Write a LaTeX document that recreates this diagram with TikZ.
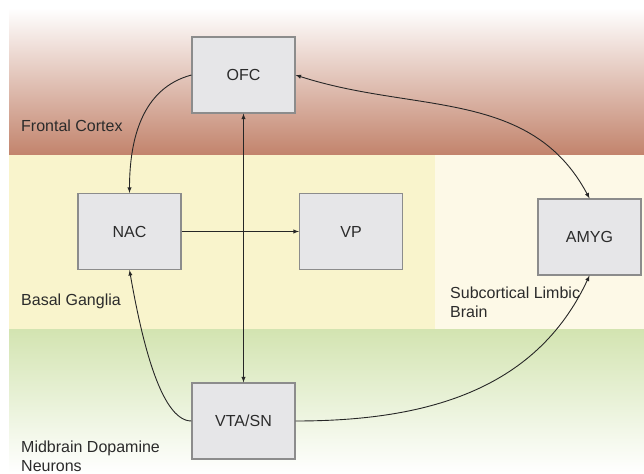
\documentclass[tikz,border=0pt]{standalone}
\usepackage{fontspec}
\setmainfont{Liberation Sans}
\usepackage{tikz}
\usetikzlibrary{arrows,positioning}
\definecolor{cortexred}{HTML}{C2836B}
\definecolor{cortexpink}{HTML}{EBD8D5}
\definecolor{gangliayellow}{HTML}{F9F4CC}
\definecolor{limbicyellow}{HTML}{FDF9E7}
\definecolor{midbraingreen}{HTML}{D3E4B1}
\definecolor{midbrainpale}{HTML}{E8F0D6}
\definecolor{boxfill}{HTML}{E6E6E8}
\definecolor{boxedge}{HTML}{8C8C8C}
\definecolor{textgray}{HTML}{2B2B2B}
\definecolor{linkgray}{HTML}{262626}

\begin{document}
\begin{tikzpicture}[x=1pt,y=-1pt]

\tikzset{brainbox/.style={draw=boxedge,fill=boxfill,line width=1.1pt,minimum width=103pt,minimum height=76pt,inner sep=0pt,font=\fontsize{16}{19}\selectfont,text=textgray,text height=11.5pt,text depth=0pt},
zonelabel/.style={inner sep=0pt,align=left,font=\fontsize{16}{19}\selectfont,text=textgray},
link/.style={draw=linkgray,line width=0.9pt,>=latex}}

\useasboundingbox (0,0) rectangle (644,473);
\fill[white] (0,0) rectangle (644,473);
\shade[top color=white,middle color=cortexpink,bottom color=cortexred] (9,8) rectangle (644,155.5);
\fill[gangliayellow] (9,155.5) rectangle (435,329.5);
\fill[limbicyellow] (435,155.5) rectangle (644,329.5);
\shade[top color=midbraingreen,middle color=midbrainpale,bottom color=white] (9,329.5) rectangle (644,473);

\node[zonelabel,anchor=base west] (fc) at (21,132) {Frontal Cortex};
\node[zonelabel,anchor=base west] (bg) at (21,305) {Basal Ganglia};
\node[zonelabel,anchor=north west] (slb) at (450,286.3) {Subcortical Limbic\\Brain};
\node[zonelabel,anchor=north west] (mdn) at (21,440.3) {Midbrain Dopamine\\Neurons};

\node[brainbox] (ofc) at (243.5,75) {OFC};
\node[brainbox] (nac) at (129.5,231.5) {NAC};
\node[brainbox] (vp) at (351,231.5) {VP};
\node[brainbox] (amyg) at (589.5,237) {AMYG};
\node[brainbox] (vta) at (243.5,421) {VTA/SN};

\draw[link,->] (ofc.west) to[out=195,in=90] (nac.north);
\draw[link,<->] (ofc.east) to[out=-18,in=118] (amyg.north);
\draw[link,<->] (ofc.south) -- (vta.north);
\draw[link,->] (nac.east) -- (vp.west);
\draw[link,->] (vta.west) to[out=180,in=-80,out looseness=0.5] (nac.south);
\draw[link,->] (vta.east) to[out=0,in=-115] (amyg.south);

\end{tikzpicture}
\end{document}
